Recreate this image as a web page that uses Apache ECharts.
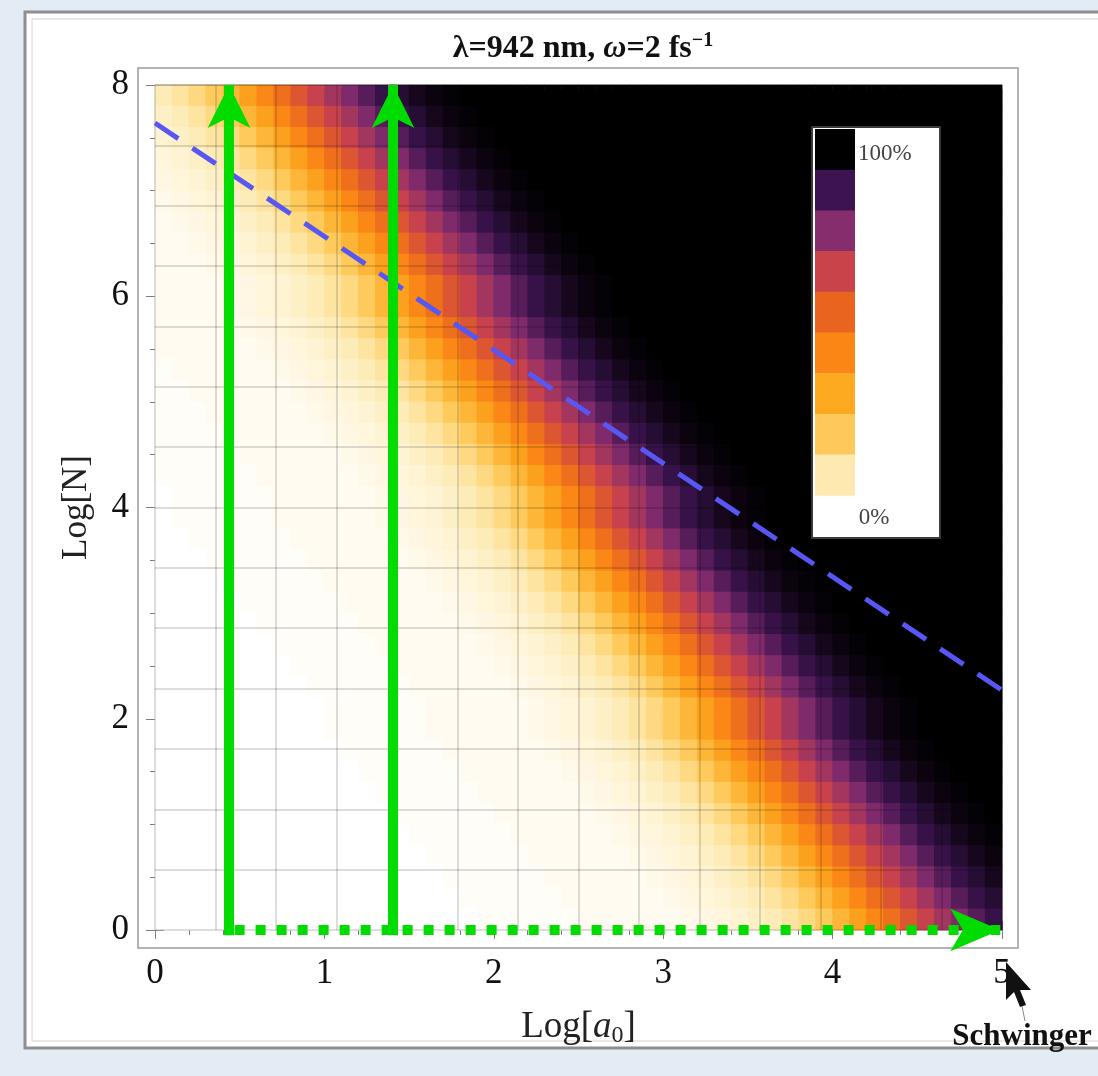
<!DOCTYPE html>
<html><head><meta charset="utf-8">
<script src="https://cdn.jsdelivr.net/npm/echarts@6.0.0/dist/echarts.min.js"></script>
<style>html,body{margin:0;padding:0;background:#e3ebf5;}#c{width:1098px;height:1076px;}</style>
</head><body><div id="c"></div>
<script>
// ---------- data ----------
const xTickLabels = ['0', '1', '2', '3', '4', '5'];
const yTickLabels = ['0', '2', '4', '6', '8'];
// heatmap cells: Log[a0] bins of 0.1 (50), Log[N] bins of 0.2 (40)
const logA0Cells = Array.from({length: 50}, (_, i) => (0.05 + 0.1 * i).toFixed(2));
const logNCells = Array.from({length: 40}, (_, j) => (0.1 + 0.2 * j).toFixed(1));
// probability (%) per cell, rows listed from top (Log[N]=7.9) to bottom (Log[N]=0.1)
const probRows = [
[10,13,17,22,29,36,44,52,60,67,73,79,85,90,93,96,98,99,100,100,100,100,100,100,100,100,100,100,100,100,100,100,100,100,100,100,100,100,100,100,100,100,100,100,100,100,100,100,100,100],
[8,10,13,17,22,29,36,44,52,60,67,73,79,85,90,93,96,98,99,100,100,100,100,100,100,100,100,100,100,100,100,100,100,100,100,100,100,100,100,100,100,100,100,100,100,100,100,100,100,100],
[6,8,10,13,17,22,29,36,44,52,60,67,73,79,85,90,93,96,98,99,100,100,100,100,100,100,100,100,100,100,100,100,100,100,100,100,100,100,100,100,100,100,100,100,100,100,100,100,100,100],
[5,6,8,10,13,17,22,29,36,44,52,60,67,73,79,85,90,93,96,98,99,100,100,100,100,100,100,100,100,100,100,100,100,100,100,100,100,100,100,100,100,100,100,100,100,100,100,100,100,100],
[4,5,6,8,10,13,17,22,29,36,44,52,60,67,73,79,85,90,93,96,98,99,100,100,100,100,100,100,100,100,100,100,100,100,100,100,100,100,100,100,100,100,100,100,100,100,100,100,100,100],
[3,4,5,6,8,10,13,17,22,29,36,44,52,60,67,73,79,85,90,93,96,98,99,100,100,100,100,100,100,100,100,100,100,100,100,100,100,100,100,100,100,100,100,100,100,100,100,100,100,100],
[2,3,4,5,6,8,10,13,17,22,29,36,44,52,60,67,73,79,85,90,93,96,98,99,100,100,100,100,100,100,100,100,100,100,100,100,100,100,100,100,100,100,100,100,100,100,100,100,100,100],
[2,2,3,4,5,6,8,10,13,17,22,29,36,44,52,60,67,73,79,85,90,93,96,98,99,100,100,100,100,100,100,100,100,100,100,100,100,100,100,100,100,100,100,100,100,100,100,100,100,100],
[2,2,2,3,4,5,6,8,10,13,17,22,29,36,44,52,60,67,73,79,85,90,93,96,98,99,100,100,100,100,100,100,100,100,100,100,100,100,100,100,100,100,100,100,100,100,100,100,100,100],
[2,2,2,2,3,4,5,6,8,10,13,17,22,29,36,44,52,60,67,73,79,85,90,93,96,98,99,100,100,100,100,100,100,100,100,100,100,100,100,100,100,100,100,100,100,100,100,100,100,100],
[2,2,2,2,3,4,5,6,8,10,13,17,22,29,36,44,52,60,67,73,79,85,90,93,96,98,99,100,100,100,100,100,100,100,100,100,100,100,100,100,100,100,100,100,100,100,100,100,100,100],
[2,2,2,2,2,3,4,5,6,8,10,13,17,22,29,36,44,52,60,67,73,79,85,90,93,96,98,99,100,100,100,100,100,100,100,100,100,100,100,100,100,100,100,100,100,100,100,100,100,100],
[2,2,2,2,2,2,3,4,5,6,8,10,13,17,22,29,36,44,52,60,67,73,79,85,90,93,96,98,99,100,100,100,100,100,100,100,100,100,100,100,100,100,100,100,100,100,100,100,100,100],
[1,2,2,2,2,2,2,3,4,5,6,8,10,13,17,22,29,36,44,52,60,67,73,79,85,90,93,96,98,99,100,100,100,100,100,100,100,100,100,100,100,100,100,100,100,100,100,100,100,100],
[1,1,2,2,2,2,2,2,3,4,5,6,8,10,13,17,22,29,36,44,52,60,67,73,79,85,90,93,96,98,99,100,100,100,100,100,100,100,100,100,100,100,100,100,100,100,100,100,100,100],
[1,1,1,2,2,2,2,2,2,3,4,5,6,8,10,13,17,22,29,36,44,52,60,67,73,79,85,90,93,96,98,99,100,100,100,100,100,100,100,100,100,100,100,100,100,100,100,100,100,100],
[1,1,1,1,2,2,2,2,2,2,3,4,5,6,8,10,13,17,22,29,36,44,52,60,67,73,79,85,90,93,96,98,99,100,100,100,100,100,100,100,100,100,100,100,100,100,100,100,100,100],
[1,1,1,1,1,2,2,2,2,2,2,3,4,5,6,8,10,13,17,22,29,36,44,52,60,67,73,79,85,90,93,96,98,99,100,100,100,100,100,100,100,100,100,100,100,100,100,100,100,100],
[1,1,1,1,1,1,2,2,2,2,2,2,3,4,5,6,8,10,13,17,22,29,36,44,52,60,67,73,79,85,90,93,96,98,99,100,100,100,100,100,100,100,100,100,100,100,100,100,100,100],
[0,1,1,1,1,1,1,2,2,2,2,2,2,3,4,5,6,8,10,13,17,22,29,36,44,52,60,67,73,79,85,90,93,96,98,99,100,100,100,100,100,100,100,100,100,100,100,100,100,100],
[0,1,1,1,1,1,1,2,2,2,2,2,2,3,4,5,6,8,10,13,17,22,29,36,44,52,60,67,73,79,85,90,93,96,98,99,100,100,100,100,100,100,100,100,100,100,100,100,100,100],
[0,0,1,1,1,1,1,1,2,2,2,2,2,2,3,4,5,6,8,10,13,17,22,29,36,44,52,60,67,73,79,85,90,93,96,98,99,100,100,100,100,100,100,100,100,100,100,100,100,100],
[0,0,0,1,1,1,1,1,1,2,2,2,2,2,2,3,4,5,6,8,10,13,17,22,29,36,44,52,60,67,73,79,85,90,93,96,98,99,100,100,100,100,100,100,100,100,100,100,100,100],
[0,0,0,0,1,1,1,1,1,1,2,2,2,2,2,2,3,4,5,6,8,10,13,17,22,29,36,44,52,60,67,73,79,85,90,93,96,98,99,100,100,100,100,100,100,100,100,100,100,100],
[0,0,0,0,0,1,1,1,1,1,1,2,2,2,2,2,2,3,4,5,6,8,10,13,17,22,29,36,44,52,60,67,73,79,85,90,93,96,98,99,100,100,100,100,100,100,100,100,100,100],
[0,0,0,0,0,0,1,1,1,1,1,1,2,2,2,2,2,2,3,4,5,6,8,10,13,17,22,29,36,44,52,60,67,73,79,85,90,93,96,98,99,100,100,100,100,100,100,100,100,100],
[0,0,0,0,0,0,0,1,1,1,1,1,1,2,2,2,2,2,2,3,4,5,6,8,10,13,17,22,29,36,44,52,60,67,73,79,85,90,93,96,98,99,100,100,100,100,100,100,100,100],
[0,0,0,0,0,0,0,0,1,1,1,1,1,1,2,2,2,2,2,2,3,4,5,6,8,10,13,17,22,29,36,44,52,60,67,73,79,85,90,93,96,98,99,100,100,100,100,100,100,100],
[0,0,0,0,0,0,0,0,0,1,1,1,1,1,1,2,2,2,2,2,2,3,4,5,6,8,10,13,17,22,29,36,44,52,60,67,73,79,85,90,93,96,98,99,100,100,100,100,100,100],
[0,0,0,0,0,0,0,0,0,0,1,1,1,1,1,1,2,2,2,2,2,2,3,4,5,6,8,10,13,17,22,29,36,44,52,60,67,73,79,85,90,93,96,98,99,100,100,100,100,100],
[0,0,0,0,0,0,0,0,0,0,1,1,1,1,1,1,2,2,2,2,2,2,3,4,5,6,8,10,13,17,22,29,36,44,52,60,67,73,79,85,90,93,96,98,99,100,100,100,100,100],
[0,0,0,0,0,0,0,0,0,0,0,1,1,1,1,1,1,2,2,2,2,2,2,3,4,5,6,8,10,13,17,22,29,36,44,52,60,67,73,79,85,90,93,96,98,99,100,100,100,100],
[0,0,0,0,0,0,0,0,0,0,0,0,1,1,1,1,1,1,2,2,2,2,2,2,3,4,5,6,8,10,13,17,22,29,36,44,52,60,67,73,79,85,90,93,96,98,99,100,100,100],
[0,0,0,0,0,0,0,0,0,0,0,0,0,1,1,1,1,1,1,2,2,2,2,2,2,3,4,5,6,8,10,13,17,22,29,36,44,52,60,67,73,79,85,90,93,96,98,99,100,100],
[0,0,0,0,0,0,0,0,0,0,0,0,0,0,1,1,1,1,1,1,2,2,2,2,2,2,3,4,5,6,8,10,13,17,22,29,36,44,52,60,67,73,79,85,90,93,96,98,99,100],
[0,0,0,0,0,0,0,0,0,0,0,0,0,0,0,1,1,1,1,1,1,2,2,2,2,2,2,3,4,5,6,8,10,13,17,22,29,36,44,52,60,67,73,79,85,90,93,96,98,99],
[0,0,0,0,0,0,0,0,0,0,0,0,0,0,0,0,1,1,1,1,1,1,2,2,2,2,2,2,3,4,5,6,8,10,13,17,22,29,36,44,52,60,67,73,79,85,90,93,96,98],
[0,0,0,0,0,0,0,0,0,0,0,0,0,0,0,0,0,1,1,1,1,1,1,2,2,2,2,2,2,3,4,5,6,8,10,13,17,22,29,36,44,52,60,67,73,79,85,90,93,96],
[0,0,0,0,0,0,0,0,0,0,0,0,0,0,0,0,0,0,1,1,1,1,1,1,2,2,2,2,2,2,3,4,5,6,8,10,13,17,22,29,36,44,52,60,67,73,79,85,90,93],
[0,0,0,0,0,0,0,0,0,0,0,0,0,0,0,0,0,0,0,1,1,1,1,1,1,2,2,2,2,2,2,3,4,5,6,8,10,13,17,22,29,36,44,52,60,67,73,79,85,90]
];
// dashed blue line end points [Log a0, Log N]
const blueLine = [[0, 7.64], [5, 2.27]];
// green arrows (tips)
const arrowX = [0.437, 1.405];
const arrowBaseY = -0.05;
const arrowTipY = 8;
const dottedStartX = 0.47;
const dottedTipX = 4.99;
const dottedY = 0;
// colour scale (legend swatches, top = 100 %)
const legendColors = ['#000000', '#3d1451', '#862d6e', '#c9434b', '#e8641f', '#fa8616', '#fdaa20', '#fec95a', '#feeab0'];
const heatColors = ['#ffffff'].concat(legendColors.slice().reverse());

// ---------- layout (pixels) ----------
const plot = {left: 155, top: 85, width: 847, height: 845};
const FONT = '"Liberation Serif", "Times New Roman", serif';
const GREEN = '#00dc00';

const heatData = [];
probRows.forEach((row, t) => {
  const yi = probRows.length - 1 - t;
  row.forEach((v, i) => heatData.push([i, yi, v]));
});

const chart = echarts.init(document.getElementById('c'), null, {renderer: 'canvas'});
const tickStyle = {color: '#7d7d7d', width: 1};
const frameAxisCommon = {
  type: 'value', gridIndex: 2,
  axisLine: {show: false},
  splitLine: {show: false},
  axisTick: {show: true, inside: true, length: 9, lineStyle: tickStyle},
  minorSplitLine: {show: false}
};
const mk = r => Object.assign({outerBoundsMode: 'none', containLabel: false}, r);
// grid 3: an under-layer copy of the heatmap, shifted a few pixels, to hide seams between cells
const underRect = {left: plot.left + 4, top: plot.top + 5, width: plot.width - 4, height: plot.height - 5};

chart.setOption({
  animation: false,
  backgroundColor: 'transparent',
  textStyle: {fontFamily: FONT},
  title: {
    text: '{a|λ=942 nm, }{b|ω}{a|=2 fs}{c|−1}',
    left: 578, top: 26, textAlign: 'center',
    textStyle: {
      rich: {
        a: {fontFamily: FONT, fontWeight: 'bold', fontSize: 32, color: '#111', lineHeight: 36},
        b: {fontFamily: FONT, fontWeight: 'bold', fontStyle: 'italic', fontSize: 32, color: '#111', lineHeight: 36},
        c: {fontFamily: FONT, fontWeight: 'bold', fontSize: 20, color: '#111', lineHeight: 18, verticalAlign: 'top'}
      }
    }
  },
  grid: [mk(plot), mk(plot), mk(plot), mk(underRect)],
  xAxis: [
    {type: 'category', gridIndex: 0, data: logA0Cells, show: false},
    {type: 'value', gridIndex: 1, min: 0, max: 5, interval: 5 / 14, z: 3,
     axisLine: {show: false}, axisTick: {show: false}, axisLabel: {show: false},
     splitLine: {show: true, lineStyle: {color: 'rgba(0,0,0,0.18)', width: 1.5}}},
    Object.assign({}, frameAxisCommon, {
      position: 'bottom', offset: 18, min: 0, max: 5, interval: 1,
      minorTick: {show: true, splitNumber: 5, length: 5, lineStyle: tickStyle},
      axisLabel: {show: true, margin: 8, fontSize: 35, color: '#111', fontFamily: FONT,
                  formatter: v => xTickLabels[Math.round(v)] || ''},
      name: '{a|Log[}{b|a}{s|0}{a|]}', nameLocation: 'middle', nameGap: 58,
      nameTextStyle: {rich: {
        a: {fontFamily: FONT, fontSize: 37, color: '#222', lineHeight: 42},
        b: {fontFamily: FONT, fontSize: 37, fontStyle: 'italic', color: '#222', lineHeight: 42},
        s: {fontFamily: FONT, fontSize: 24, color: '#222', lineHeight: 22, verticalAlign: 'bottom'}
      }}
    }),
    Object.assign({}, frameAxisCommon, {
      position: 'top', offset: 17, min: 0, max: 5, interval: 1,
      minorTick: {show: true, splitNumber: 5, length: 5, lineStyle: tickStyle},
      axisLabel: {show: false}
    }),
    {type: 'category', gridIndex: 3, data: logA0Cells, show: false}
  ],
  yAxis: [
    {type: 'category', gridIndex: 0, data: logNCells, show: false},
    {type: 'value', gridIndex: 1, min: 0, max: 8, interval: 8 / 14, z: 3,
     axisLine: {show: false}, axisTick: {show: false}, axisLabel: {show: false},
     splitLine: {show: true, lineStyle: {color: 'rgba(0,0,0,0.18)', width: 1.5}}},
    Object.assign({}, frameAxisCommon, {
      position: 'left', offset: 17, min: 0, max: 8, interval: 2,
      minorTick: {show: true, splitNumber: 4, length: 5, lineStyle: tickStyle},
      axisLabel: {show: true, margin: 9, fontSize: 35, color: '#111', fontFamily: FONT,
                  formatter: v => yTickLabels[Math.round(v / 2)] || ''},
      name: 'Log[N]', nameLocation: 'middle', nameGap: 44, nameRotate: 90,
      nameTextStyle: {fontFamily: FONT, fontSize: 35, color: '#222'}
    }),
    Object.assign({}, frameAxisCommon, {
      position: 'right', offset: 16, min: 0, max: 8, interval: 2,
      minorTick: {show: true, splitNumber: 4, length: 5, lineStyle: tickStyle},
      axisLabel: {show: false}
    }),
    {type: 'category', gridIndex: 3, data: logNCells, show: false}
  ],
  visualMap: {
    type: 'continuous', show: false, seriesIndex: [0, 4], min: 0, max: 100,
    inRange: {color: heatColors}
  },
  series: [
    {type: 'heatmap', xAxisIndex: 0, yAxisIndex: 0, data: heatData, z: 2,
     emphasis: {disabled: true}, progressive: 0, silent: true},
    {type: 'line', xAxisIndex: 2, yAxisIndex: 2, data: blueLine, z: 8, silent: true,
     symbol: 'none', lineStyle: {color: '#5757f3', width: 5, type: [28, 17], cap: 'butt'}},
    {type: 'lines', coordinateSystem: 'cartesian2d', xAxisIndex: 2, yAxisIndex: 2, z: 10, silent: true, clip: false,
     data: arrowX.map(x => ({coords: [[x, arrowBaseY], [x, arrowTipY]]})),
     lineStyle: {color: GREEN, width: 10, opacity: 1, type: 'solid', cap: 'butt'},
     symbol: ['none', 'arrow'], symbolSize: [[32, 43], [32, 43]]},
    {type: 'lines', coordinateSystem: 'cartesian2d', xAxisIndex: 2, yAxisIndex: 2, z: 10, silent: true, clip: false,
     data: [{coords: [[dottedStartX, dottedY], [dottedTipX, dottedY]]}],
     lineStyle: {color: GREEN, width: 10, opacity: 1, type: [10, 11], cap: 'butt'},
     symbol: ['none', 'arrow'], symbolSize: [[32, 50], [32, 50]]},
    {type: 'heatmap', xAxisIndex: 4, yAxisIndex: 4, data: heatData, z: 1,
     emphasis: {disabled: true}, progressive: 0, silent: true}
  ],
  graphic: [
    {type: 'rect', z: -10, silent: true, shape: {x: 25, y: 12, width: 1100, height: 1036},
     style: {fill: '#ffffff', stroke: '#8e8e8e', lineWidth: 3}},
    {type: 'rect', z: -9, silent: true, shape: {x: 32, y: 19, width: 1100, height: 1022},
     style: {fill: 'none', stroke: '#d2d2d2', lineWidth: 1}},
    {type: 'rect', z: -5, silent: true, shape: {x: 138, y: 68, width: 880, height: 880},
     style: {fill: 'none', stroke: '#9a9a9a', lineWidth: 1.5}},
    {type: 'group', z: 100, silent: true, children: [
      {type: 'rect', z: 100, shape: {x: 812, y: 127, width: 128, height: 411},
       style: {fill: '#ffffff', stroke: '#3a3a3a', lineWidth: 2}}
    ].concat(legendColors.map((c, i) => ({
      type: 'rect', z: 101, shape: {x: 815, y: 129 + i * 40.7, width: 40, height: 41.2},
      style: {fill: c}
    }))).concat([
      {type: 'text', z: 102, style: {text: '100%', x: 858, y: 154, font: '23px ' + FONT, fill: '#444', align: 'left', verticalAlign: 'middle'}},
      {type: 'text', z: 102, style: {text: '0%', x: 874, y: 518, font: '23px ' + FONT, fill: '#444', align: 'center', verticalAlign: 'middle'}}
    ])},
    {type: 'text', z: 50, silent: true,
     style: {text: 'Schwinger', x: 1022, y: 1037, font: 'bold 31px ' + FONT, fill: '#111', align: 'center', verticalAlign: 'middle'}},
    {type: 'polygon', z: 50, silent: true,
     shape: {points: [[1006, 962], [1006, 1000], [1014, 992], [1020, 1007], [1026, 1005], [1020, 990], [1031, 990]]},
     style: {fill: '#111'}},
    {type: 'line', z: 50, silent: true, shape: {x1: 1022, y1: 1006, x2: 1025, y2: 1021},
     style: {stroke: '#888', lineWidth: 1}}
  ]
});
</script></body></html>
